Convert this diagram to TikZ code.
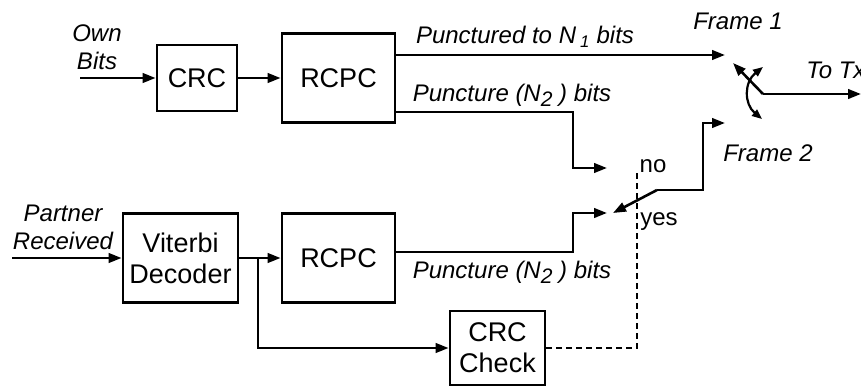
\documentclass[tikz,border=0pt]{standalone}
\usepackage{fontspec}
\setmainfont{Liberation Sans}
\usetikzlibrary{arrows.meta}

\begin{document}
\begin{tikzpicture}[
            x = 1pt, y = -1pt, % one unit per pixel
            > = {Triangle[length=13pt, width=9.5pt]}, % arrow head style
            line width = 2.6pt, % line style
            every node/.style = {inner sep = 0pt}
        ]

        \tikzstyle{block}=[
            draw = black,
            line width = 2.8pt,
            align = center,
            font = \fontsize{27}{31}\selectfont
        ]
        \tikzstyle{lbl}=[
            align = center,
            font = \fontsize{24}{28}\selectfont\itshape
        ]
        \tikzstyle{plain}=[font = \fontsize{24}{28}\selectfont]

        \useasboundingbox (0,0) rectangle (861,388);

        \node[block, minimum width=80, minimum height=66] (crc) at (197,78) {CRC};
        \node[block, minimum width=113, minimum height=89] (rcpcA) at (338.5,78) {RCPC};

        \node[block, minimum width=115, minimum height=89] (vit) at (180.5,258) {Viterbi\\Decoder};
        \node[block, minimum width=113, minimum height=89] (rcpcB) at (338.5,258) {RCPC};
        \node[block, minimum width=95, minimum height=74] (chk) at (497.5,348) {CRC\\Check};

        % inputs
        \node[lbl] (own) at (97,47) {Own\\Bits};
        \node[lbl] (partner) at (63,227) {Partner\\Received};
        \coordinate (ownin) at (80,78);
        \coordinate (partin) at (12,258);

        % switch points
        \coordinate (f1in) at (725,55);
        \coordinate (noin) at (607,168);
        \coordinate (yesin) at (607,213);
        \coordinate (f2in) at (725,123);
        \coordinate (arm) at (657,190);
        \coordinate (armtip) at (613,213);
        \coordinate (kink) at (703,190);
        \coordinate (pivot) at (763,94);
        \coordinate (pivtip) at (733,63);
        \coordinate (tx) at (861,94);
        \coordinate (branch) at (258,258);
        \coordinate (dashtop) at (637,173);

        \node[lbl] (n1) at (525,37) {Punctured to N\,\textsubscript{1} bits};
        \node[lbl] (n2a) at (512,95) {Puncture (N{\fontsize{21}{21}\selectfont\raisebox{-5pt}{2}} ) bits};
        \node[lbl] (n2b) at (512,272) {Puncture (N{\fontsize{21}{21}\selectfont\raisebox{-5pt}{2}} ) bits};
        \node[lbl] (fr1) at (738,21) {Frame 1};
        \node[lbl] (fr2) at (768,153) {Frame 2};
        \node[lbl, anchor=west] (totx) at (805,70) {To Tx};
        \node[plain] (no) at (653,166) {no};
        \node[plain] (yes) at (659,222) {yes};

        \path[->] (ownin) edge (crc);
        \path[->] (crc) edge (rcpcA);
        \path[->] (partin) edge (vit);
        \path[->] (vit) edge (rcpcB);

        \draw[->] (rcpcA.east |- f1in) -- (f1in);
        \draw[->] (rcpcA.east |- 0,112) -- (573,112) |- (noin);
        \draw[->] (rcpcB.east |- 0,252) -- (573,252) |- (yesin);
        \draw[->] (branch) |- (chk.west);

        \draw[dashed, line width=2.2pt, dash pattern=on 6pt off 4pt] (chk.east) -| (dashtop);

        \draw[->] (arm) -- (armtip);
        \draw[->] (arm) -- (kink) |- (f2in);
        \draw[->] (pivot) -- (pivtip);
        \draw[->] (pivot) -- (tx);
        \draw[{Triangle[length=10pt, width=8pt]}-{Triangle[length=10pt, width=8pt]}, line width=2.2pt]
            (762,119) .. controls (744,104) and (744,82) .. (763,67);
    \end{tikzpicture}
\end{document}
